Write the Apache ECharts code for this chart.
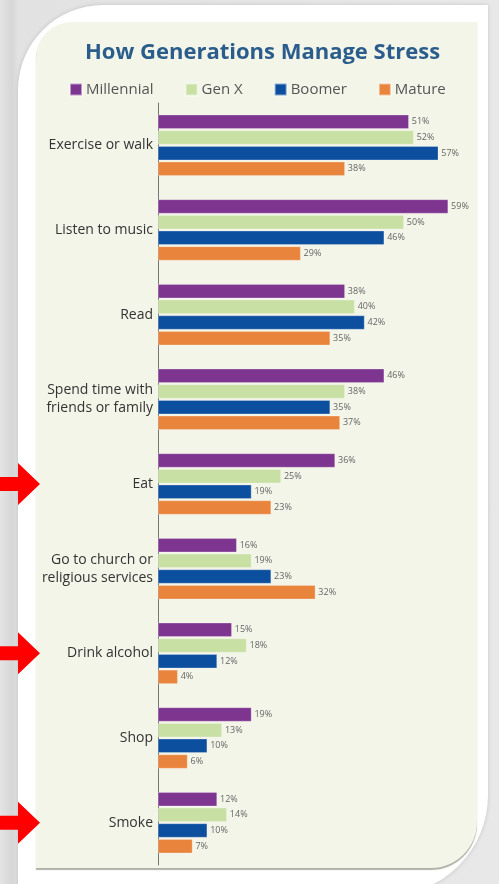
<!DOCTYPE html>
<html>
<head>
<meta charset="utf-8">
<script src="https://cdn.jsdelivr.net/npm/echarts@6/dist/echarts.min.js"></script>
<style>
  html, body { margin: 0; padding: 0; }
  body {
    width: 499px; height: 884px; overflow: hidden; position: relative;
    background: linear-gradient(90deg, #e4e4e4 0, #d6d6d6 12px, #e2e2e2 18px, #e8e8e8 100%);
  }
  .panel {
    position: absolute; left: 18px; top: 5px; width: 470px; height: 890px;
    background: #fff; border-radius: 85px 0 100px 0;
    box-shadow: 0 0 4px rgba(0,0,0,0.15);
  }
  .paper {
    position: absolute; left: 36px; top: 22px; width: 441px; height: 846px;
    background: #f3f5e9; border-radius: 36px 0 46px 0;
    box-shadow: 0 2px 1px rgba(80,80,60,0.45);
  }
  #chart { position: absolute; left: 0; top: 0; width: 499px; height: 884px; }
</style>
</head>
<body>
<div class="panel"></div>
<div class="paper"></div>
<div id="chart"></div>
<script>
// 数据
const categories = [
  'Exercise or walk',
  'Listen to music',
  'Read',
  'Spend time with\nfriends or family',
  'Eat',
  'Go to church or\nreligious services',
  'Drink alcohol',
  'Shop',
  'Smoke'
]
const millennial = [51, 59, 38, 46, 36, 16, 15, 19, 12]
const genX = [52, 50, 40, 38, 25, 19, 18, 13, 14]
const boomer = [57, 46, 42, 35, 19, 23, 12, 10, 10]
const mature = [38, 29, 35, 37, 23, 32, 4, 6, 7]
const markedCategories = ['Eat', 'Drink alcohol', 'Smoke']

const seriesNames = ['Millennial', 'Gen X', 'Boomer', 'Mature']
const seriesColors = ['#7d3590', '#c8e0a4', '#0d4f9f', '#e9843c']
const seriesData = [millennial, genX, boomer, mature]

const myChart = echarts.init(document.getElementById('chart'))

myChart.setOption({
  backgroundColor: 'transparent',
  animation: false,
  title: {
    text: 'How Generations Manage Stress',
    left: 80,
    top: 37,
    textStyle: {
      color: '#2b5d8c',
      fontSize: 22,
      fontWeight: 700,
      fontFamily: 'Open Sans'
    }
  },
  legend: {
    data: seriesNames,
    left: 64,
    top: 77,
    itemWidth: 12,
    itemHeight: 12,
    itemGap: 31,
    icon: 'rect',
    textStyle: {
      color: '#555',
      fontSize: 15,
      fontFamily: 'Open Sans',
      padding: [0, 0, 0, -1]
    }
  },
  grid: {
    left: 158,
    right: 46,
    top: 103,
    bottom: 19
  },
  xAxis: {
    type: 'value',
    min: 0,
    max: 60,
    show: false
  },
  yAxis: {
    type: 'category',
    data: categories,
    inverse: true,
    axisLine: {
      lineStyle: { color: '#777', width: 1 }
    },
    axisTick: {
      inside: true,
      length: 5,
      lineStyle: { color: '#666' }
    },
    axisLabel: {
      color: '#333',
      fontSize: 14,
      fontFamily: 'Open Sans',
      margin: 5,
      lineHeight: 18,
      align: 'right'
    }
  },
  series: seriesNames.map((name, i) => {
    return {
      name: name,
      type: 'bar',
      data: seriesData[i],
      barWidth: 14,
      barGap: '12%',
      itemStyle: {
        color: seriesColors[i],
        borderColor: 'rgba(255,255,255,0.5)',
        borderWidth: 0.5
      },
      label: {
        show: true,
        position: 'right',
        distance: 3,
        formatter: '{c}%',
        color: '#666',
        fontSize: 9,
        fontFamily: 'Open Sans'
      }
    }
  })
})

// 红色箭头，跟随被标记的类目
const arrows = markedCategories.map((cat) => {
  const cy = myChart.convertToPixel({ yAxisIndex: 0 }, cat)
  return {
    type: 'polygon',
    shape: {
      points: [[0, cy - 7], [18, cy - 7], [18, cy - 21], [40, cy], [18, cy + 21], [18, cy + 7], [0, cy + 7]]
    },
    style: { fill: '#ff0000' }
  }
})
myChart.setOption({ graphic: arrows })
</script>
</body>
</html>
